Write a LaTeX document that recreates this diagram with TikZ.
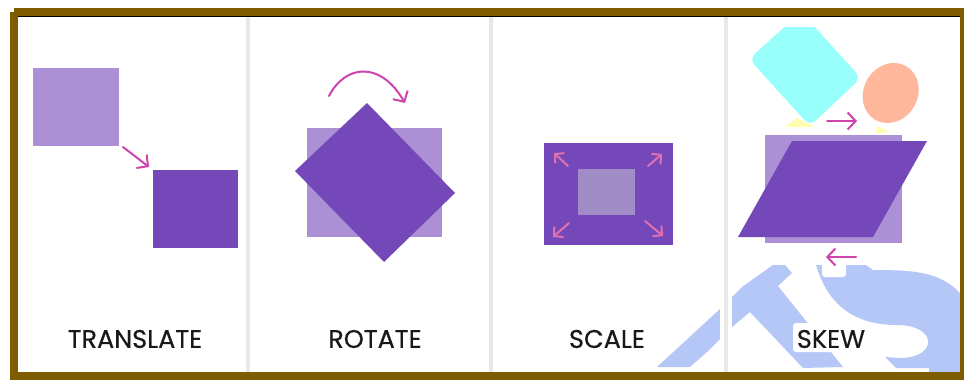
\documentclass[tikz,border=0pt]{standalone}
\usepackage{fontspec}
\setmainfont{Poppins}
\newfontfamily\capfont[FakeBold=0.5]{Poppins}
\usetikzlibrary{arrows.meta}
\definecolor{framec}{HTML}{7F5C00}
\definecolor{lightp}{HTML}{AB90D6}
\definecolor{darkp}{HTML}{7548BA}
\definecolor{innerp}{HTML}{A28CC8}
\definecolor{arrowc}{HTML}{CE44AA}
\definecolor{arrowl}{HTML}{E070B0}
\definecolor{wm}{HTML}{B5C7F7}
\definecolor{divc}{HTML}{E8E8E8}
\definecolor{cyanc}{HTML}{99FFFB}
\definecolor{peach}{HTML}{FFB89C}
\definecolor{yell}{HTML}{FFFDB0}
\tikzset{
  x=1pt,y=-1pt,
  lightbox/.style={fill=lightp,draw=none},
  darkbox/.style={fill=darkp,draw=none},
  divider/.style={fill=divc,draw=none},
  wmark/.style={fill=wm,draw=none},
  conn/.style={draw=arrowc,line width=2pt,line cap=round,-{Straight Barb[length=8pt,width=17pt,line width=2pt]}},
  connl/.style={draw=arrowl,line width=2pt,line cap=round,-{Straight Barb[length=6.5pt,width=14pt,line width=2pt]}},
  caption/.style={font=\capfont\fontsize{25.5}{30}\selectfont,text=black!90,inner sep=0pt,anchor=center}
}
\begin{document}
\begin{tikzpicture}
\useasboundingbox (0,0) rectangle (964,381);
\fill[white] (0,0) rectangle (964,381);
% watermark
\path[wmark] (657,367) -- (720,309) -- (742,287) -- (773,265) -- (785,265) -- (792,273) -- (778,286) -- (843,367) -- (803,368) -- (750,312) -- (732,327) -- (707,352) -- (690,367) -- cycle;
\path[wmark] (816,265) .. controls (825,295) and (845,325) .. (897,325)
  .. controls (938,325) and (938,358) .. (900,358) -- (885,357) -- (896,368) -- (929,368) -- (929,372) -- (960,372) -- (960,293)
  .. controls (940,272) and (915,270) .. (873,270) -- (866,265) -- cycle;
\fill[white,rounded corners=3pt] (822,262) rectangle (846,277);
\fill[white,rounded corners=3pt] (793,323) rectangle (842,352);
% dividers
\fill[white] (720,290) rectangle (732,372);
\path[divider] (246,16) rectangle (250,372);
\path[divider] (489,16) rectangle (493,372);
\path[divider] (724,16) rectangle (728,372);
% translate
\path[lightbox] (33,68) rectangle (119,146);
\path[darkbox] (153,170) rectangle (238,248);
\coordinate (ta) at (123,147);
\coordinate (tb) at (149,167);
\draw[conn] (ta) -- (tb);
\node[caption] (t1) at (135,339) {TRANSLATE};
% rotate
\path[lightbox] (307,128) rectangle (442,237);
\path[darkbox] (367,103) -- (455,193) -- (384,262) -- (295,171) -- cycle;
\coordinate (ra) at (329,96);
\coordinate (rb) at (405,103);
\draw[conn] (ra) .. controls (345,65) and (380,60) .. (rb);
\node[caption] (t2) at (375,339) {ROTATE};
% scale
\path[darkbox] (544,143) rectangle (673,245);
\fill[innerp] (578,169) rectangle (635,215);
\coordinate (s1a) at (568,166); \coordinate (s1b) at (554,153);
\coordinate (s2a) at (648,166); \coordinate (s2b) at (662,154);
\coordinate (s3a) at (569,223); \coordinate (s3b) at (553,237);
\coordinate (s4a) at (645,221); \coordinate (s4b) at (663,236);
\draw[connl] (s1a) -- (s1b);
\draw[connl] (s2a) -- (s2b);
\draw[connl] (s3a) -- (s3b);
\draw[connl] (s4a) -- (s4b);
\node[caption] (t3) at (607,339) {SCALE};
% skew
\fill[yell] (785,127) -- (797,118) -- (815,127) -- cycle;
\fill[yell] (876,133) -- (877,126) -- (890,132) -- cycle;
\begin{scope}
\clip (740,27) rectangle (950,140);
\fill[cyanc,rounded corners=8pt] (749,59) -- (801,12) -- (861,78) -- (810,126) -- cycle;
\end{scope}
\fill[peach,rotate around={60:(890.7,93)}] (890.7,93) ellipse (31 and 27);
\coordinate (ka) at (827,121);
\coordinate (kb) at (857,121);
\draw[conn] (ka) -- (kb);
\path[lightbox] (765,135) rectangle (902,243);
\path[darkbox] (792,141) -- (927,141) -- (873,237) -- (738,237) -- cycle;
\coordinate (la) at (856,257);
\coordinate (lb) at (826,257);
\draw[conn] (la) -- (lb);
\node[caption] (t4) at (831,339) {SKEW};
% frame
\draw[framec,line width=8pt] (14,12) -- (964,12) (14,12) -- (14,376) -- (964,376);
\draw[framec,line width=4pt] (962,12) -- (962,376);
\draw[black,line width=1pt] (18,16.5) -- (960,16.5);
\end{tikzpicture}
\end{document}
